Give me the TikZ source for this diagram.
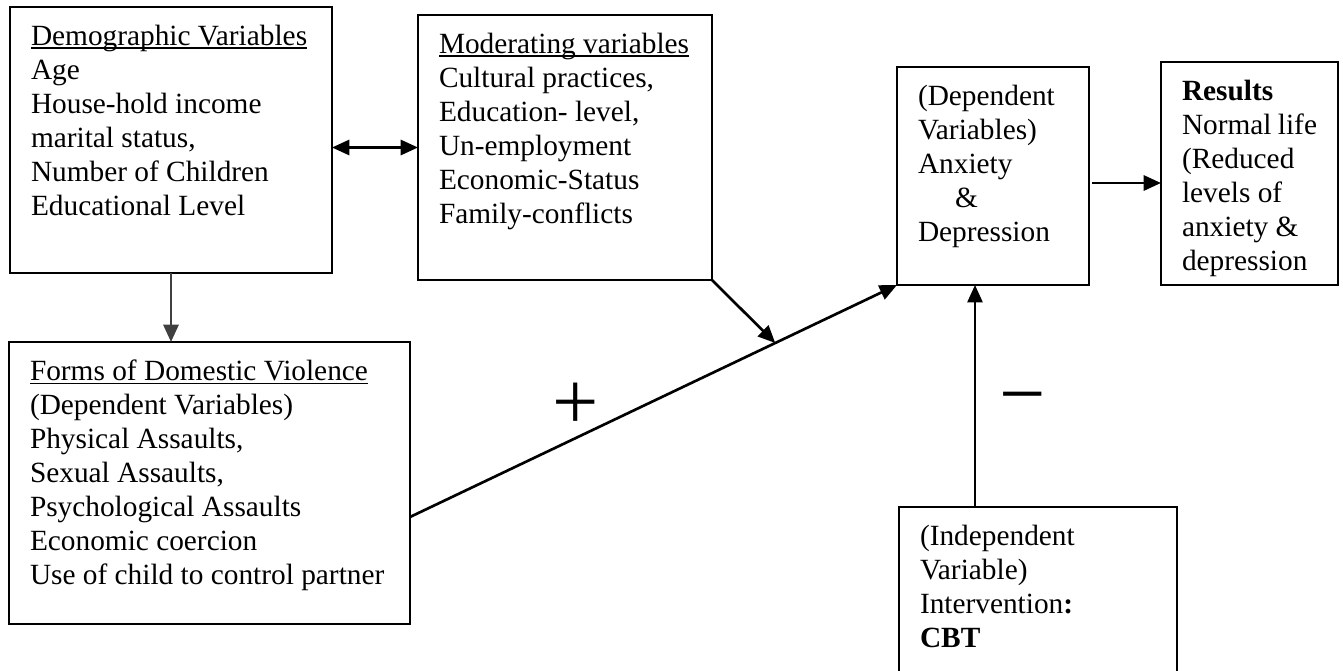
\documentclass[tikz,border=0pt]{standalone}
\usepackage{fontspec}
\setmainfont{Liberation Serif}
\usetikzlibrary{arrows.meta,calc}
\newlength{\px}
\setlength{\px}{0.45pt}
\newcommand{\boxtext}[3]{\parbox[t][#2\px][t]{#1\px}{#3}}
\newcommand{\undl}[1]{\leavevmode\setbox0\hbox{#1}\rlap{\rule[-1.5pt]{\wd0}{0.6pt}}\box0}

\begin{document}
\begin{tikzpicture}[->,>={Triangle[length=7.8pt,width=6.8pt]},line width=1.2pt,x=0.45pt,y=-0.45pt,
    box/.style={draw,-,line width=0.9pt,anchor=north west,inner xsep=21\px,inner ysep=18\px,outer sep=0pt,font=\fontsize{13.2}{15.3}\selectfont},
    sign/.style={inner sep=0pt,font=\fontsize{37}{40}\selectfont}]

            \useasboundingbox (0,0) rectangle (1343,671);

            \node[box] (1) at (10,7) {\boxtext{280}{230}{\undl{Demographic Variables}\\Age\\House-hold income\\marital status,\\Number of Children\\Educational Level}};
            \node[box] (2) at (418,15) {\boxtext{252}{229}{\undl{Moderating variables}\\Cultural practices,\\Education- level,\\Un-employment\\Economic-Status\\Family-conflicts}};
            \node[box] (3) at (897,67) {\boxtext{150}{182}{(Dependent\\Variables)\\Anxiety\\\hspace*{37\px}\&\\Depression}};
            \node[box] (4) at (1161,62) {\boxtext{135}{187}{\textbf{Results}\\Normal life\\(Reduced\\levels of\\anxiety \&\\depression}};
            \node[box] (5) at (9,342) {\boxtext{359}{246}{\undl{Forms of Domestic Violence}\\(Dependent Variables)\\Physical Assaults,\\Sexual Assaults,\\Psychological Assaults\\Economic coercion\\Use of child to control partner}};
            \node[box] (6) at (899,507) {\boxtext{236}{134}{(Independent\\Variable)\\Intervention\textbf{:}\\\textbf{CBT}}};

            \node[sign] (7) at (576,406) {+};
            \node[sign] (8) at (1023,407) {−};

            \coordinate (9) at ($(5.east)+(0,34)$);
            \coordinate (10) at ($(9)!0.75!(3.south west)$);
            \coordinate (11) at ($(6.north west)+(76,0)$);
            \coordinate (12) at ($(3.east)+(3,7)$);

            \path
                (1.east |- 2.west) edge[<->] (2.west)
                (1.south) edge[black!75] (1.south |- 5.north)
                (9) edge (3.south west)
                (2.south east) edge (10)
                (11) edge[line width=1pt] (11 |- 3.south)
                (12) edge (12 -| 4.west)
            ;
        \end{tikzpicture}
\end{document}
